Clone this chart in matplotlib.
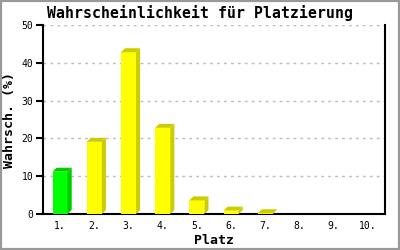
import numpy as np
import matplotlib.pyplot as plt
from matplotlib.patches import Polygon

# values
places = ["1.", "2.", "3.", "4.", "5.", "6.", "7.", "8.", "9.", "10."]
probs = [11.2, 19.1, 42.8, 22.8, 3.6, 0.9, 0.2, 0, 0, 0]
highlight = 0  # index of the green bar

plt.rcParams['font.family'] = ['DejaVu Sans Mono']

fig = plt.figure(figsize=(4, 2.5), dpi=100)
ax = fig.add_axes([0.1075, 0.144, 0.855, 0.756])

x = np.arange(1, len(places) + 1)
width = 0.44
dx, dy = 0.12, 1.05  # fake 3d depth

for i, (xi, v) in enumerate(zip(x, probs)):
    if v <= 0:
        continue
    front = '#00ff00' if i == highlight else '#ffff00'
    shade = '#00cc00' if i == highlight else '#cccc00'
    l, r = xi - width / 2, xi + width / 2
    ax.bar(xi, v, width=width, color=front, linewidth=0, zorder=3)
    ax.add_patch(Polygon([(r, 0), (r + dx, dy), (r + dx, v + dy), (r, v)],
                         closed=True, color=shade, linewidth=0, zorder=3))
    ax.add_patch(Polygon([(l, v), (l + dx, v + dy), (r + dx, v + dy), (r, v)],
                         closed=True, color=shade, linewidth=0, zorder=3))

ax.set_xlim(0.5, len(places) + 0.5)
ax.set_ylim(0, 50)
ax.set_yticks([0, 10, 20, 30, 40, 50])
ax.set_xticks(x)
ax.set_xticklabels(places)
ax.tick_params(axis='y', length=5, width=1.5, labelsize=7, pad=2)
ax.tick_params(axis='x', length=0, labelsize=7, pad=5)
ax.grid(axis='y', color='#bbbbbb', linestyle=(0, (2, 3)), linewidth=1, zorder=0)

ax.spines['top'].set_visible(False)
ax.spines['left'].set_linewidth(1.5)
ax.spines['bottom'].set_linewidth(1.5)
ax.spines['right'].set_linewidth(1.5)

fig.text(0.5, 0.948, "Wahrscheinlichkeit für Platzierung", fontsize=10.7,
         fontweight='bold', ha='center', va='center')
ax.set_xlabel("Platz", fontsize=9.5, fontweight='bold', labelpad=2)
ax.set_ylabel("Wahrsch. (%)", fontsize=9.5, fontweight='bold', labelpad=4)

# grey frame around the whole image
fig.patches.append(plt.Rectangle((0, 0), 1, 1, transform=fig.transFigure,
                                 fill=False, edgecolor='#999999', linewidth=3))

fig.savefig("out.png", dpi=100)
